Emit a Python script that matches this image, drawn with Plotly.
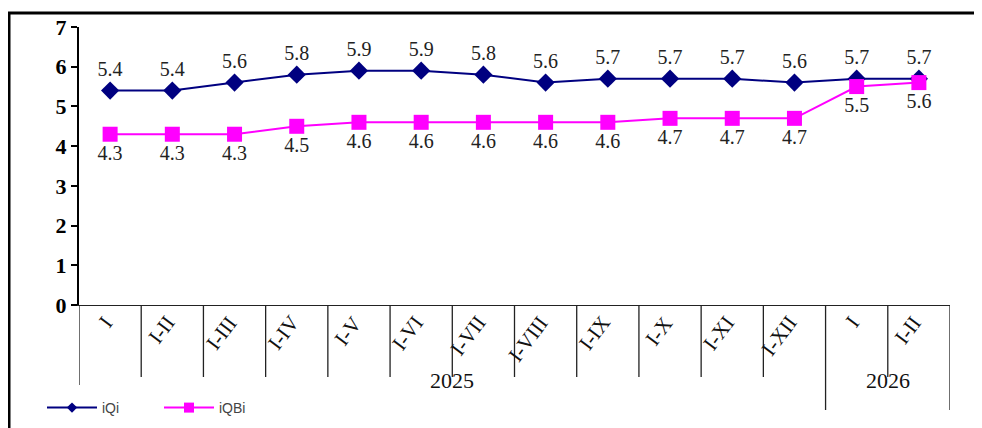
import plotly.graph_objects as go

categories = ["I", "I-II", "I-III", "I-IV", "I-V", "I-VI", "I-VII", "I-VIII",
              "I-IX", "I-X", "I-XI", "I-XII", "I", "I-II"]
years = ["2025", "2026"]
year_spans = [(0, 12), (12, 14)]
iqi = [5.4, 5.4, 5.6, 5.8, 5.9, 5.9, 5.8, 5.6, 5.7, 5.7, 5.7, 5.6, 5.7, 5.7]
iqbi = [4.3, 4.3, 4.3, 4.5, 4.6, 4.6, 4.6, 4.6, 4.6, 4.7, 4.7, 4.7, 5.5, 5.6]
series_names = ["iQi", "iQBi"]

# the page body has an 8px margin; lay the figure out in window pixels
OFF = 8
PX_L, PX_R, PX_T, PX_B = 79, 950, 27, 305   # plot area in window pixels
W, H = 982 - OFF, 428 - OFF
L, T = PX_L - OFF, PX_T - OFF
pw, ph = PX_R - PX_L, PX_B - PX_T
R, B = W - L - pw, H - T - ph

def py(pix_y):
    return (PX_B - pix_y) / ph

def px(pix_x):
    return (pix_x - PX_L) / pw

xs = [i + 0.5 for i in range(len(categories))]
serif = "Liberation Serif, Times New Roman, serif"
colors = ["#000080", "#FF00FF"]
symbols = ["diamond", "square"]
marker_sizes = [14, 15]

fig = go.Figure()
for vals, name, col, sym, msz, pos in zip([iqi, iqbi], series_names, colors, symbols,
                                          marker_sizes, ["top center", "bottom center"]):
    fig.add_trace(go.Scatter(
        x=xs, y=vals, name=name, mode="lines+markers+text", showlegend=False,
        line=dict(color=col, width=2),
        marker=dict(symbol=sym, size=msz, color=col),
        text=[f"{v:.1f}" for v in vals], textposition=pos,
        textfont=dict(family=serif, size=20, color="#222"), cliponaxis=False))
for name, col, sym, sz in zip(series_names, colors, symbols, [8, 10]):
    fig.add_trace(go.Scatter(
        x=[None], y=[None], name=name, mode="lines+markers",
        line=dict(color=col, width=2),
        marker=dict(symbol=sym, size=sz, color=col)))

shapes = []
shapes.append(dict(type="rect", xref="paper", yref="paper",
                   x0=px(9), x1=px(1000), y0=py(13), y1=py(450),
                   line=dict(color="black", width=3), layer="above"))
for i in range(len(categories) + 1):
    if i in (12, 14):
        bottom = 410
    elif i == 0:
        bottom = 385
    else:
        bottom = 377
    shapes.append(dict(type="line", xref="x", yref="paper",
                       x0=i, x1=i, y0=0, y1=py(bottom),
                       line=dict(color="#222", width=1.3)))

annotations = []
for x, c in zip(xs, categories):
    annotations.append(dict(x=x, y=py(309), xref="x", yref="paper",
                            text=c, showarrow=False, textangle=-53,
                            xanchor="right", yanchor="top", xshift=10,
                            font=dict(family=serif, size=21, color="#111")))
for yr, (a, b) in zip(years, year_spans):
    annotations.append(dict(x=(a + b) / 2, y=py(395), xref="x", yref="paper",
                            text=yr, showarrow=False,
                            font=dict(family=serif, size=22, color="#111")))

fig.update_layout(
    width=W, height=H, margin=dict(l=L, r=R, t=T, b=B, autoexpand=False),
    paper_bgcolor="white", plot_bgcolor="white",
    shapes=shapes, annotations=annotations,
    showlegend=True,
    legend=dict(orientation="h", x=px(42), y=py(408), xanchor="left", yanchor="middle",
                font=dict(family="Liberation Sans, Arial, sans-serif", size=14, color="#444"),
                itemwidth=50, entrywidth=52, bgcolor="rgba(0,0,0,0)", tracegroupgap=0),
    xaxis=dict(range=[0, 14], showticklabels=False, showgrid=False, zeroline=False,
               showline=True, linecolor="#222", linewidth=1.3, ticks="", automargin=False),
    yaxis=dict(range=[0, 7], dtick=1, showgrid=False, zeroline=False, automargin=False,
               showline=True, linecolor="black", linewidth=2,
               ticks="outside", ticklen=6, tickcolor="black", tickwidth=2,
               tickfont=dict(family=serif, size=22, color="black", weight="bold")),
)

fig.write_html("out.html")
